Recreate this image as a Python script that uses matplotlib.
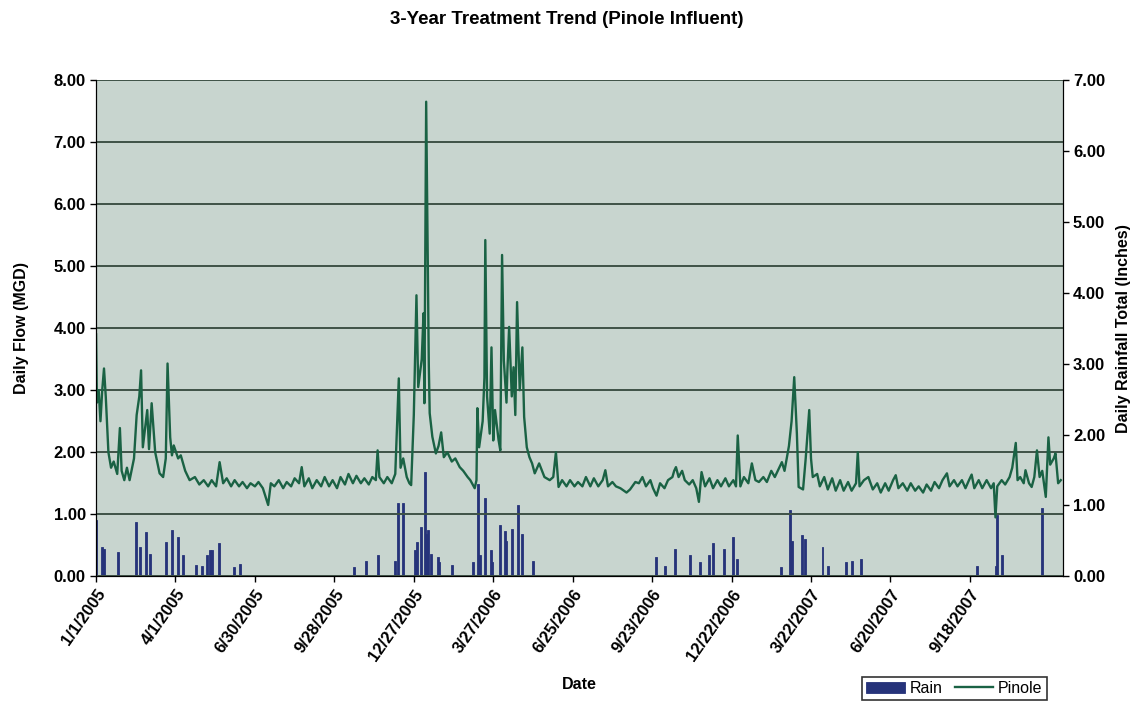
import matplotlib.pyplot as plt
import matplotlib.dates as mdates
import pandas as pd

plt.rcParams['font.family'] = ['Liberation Sans', 'DejaVu Sans']

start = pd.Timestamp("2005-01-01")

# daily flow (MGD); day = days since 1/1/2005
flow_day = [0, 1, 3, 5, 7, 9, 11, 14, 17, 20, 24, 27, 29, 32, 35, 38, 43, 46, 49, 51,
            53, 58, 60, 63, 67, 72, 76, 79, 81, 84, 86, 88, 93, 96, 101, 106, 112, 117, 122, 127,
            131, 136, 140, 144, 148, 153, 157, 162, 166, 171, 175, 180, 184, 189, 195, 198, 202, 207, 212, 216,
            221, 225, 230, 233, 236, 241, 245, 250, 255, 259, 264, 268, 273, 277, 282, 286, 291, 295, 300, 304,
            309, 313, 317, 319, 321, 326, 330, 335, 339, 343, 345, 348, 352, 355, 357, 360, 363, 365, 369, 371,
            372, 374, 377, 378, 381, 385, 388, 391, 394, 398, 403, 407, 412, 416, 421, 424, 429, 431, 432, 434,
            438, 440, 441, 443, 446, 448, 450, 452, 456, 458, 460, 462, 465, 466, 468, 471, 473, 475, 477, 480,
            483, 485, 488, 491, 494, 497, 502, 508, 514, 518, 521, 524, 528, 533, 537, 542, 546, 551, 555, 560,
            564, 569, 574, 577, 580, 585, 589, 594, 601, 605, 611, 615, 619, 623, 628, 631, 635, 639, 644, 648,
            653, 655, 657, 660, 664, 667, 672, 676, 680, 683, 686, 690, 695, 699, 704, 708, 713, 717, 722, 725,
            727, 730, 734, 739, 743, 747, 751, 756, 760, 765, 769, 774, 777, 780, 785, 788, 791, 794, 796, 801,
            804, 808, 810, 812, 817, 820, 825, 829, 834, 838, 843, 847, 852, 856, 861, 863, 865, 870, 875, 880,
            885, 889, 894, 898, 903, 906, 909, 914, 919, 923, 928, 932, 937, 941, 946, 950, 955, 959, 964, 967,
            972, 976, 981, 985, 989, 992, 995, 1000, 1004, 1009, 1014, 1017, 1019, 1021, 1026, 1030, 1035, 1038, 1042, 1044,
            1047, 1051, 1053, 1057, 1060, 1063, 1066, 1069, 1072, 1076, 1079, 1081, 1085, 1087, 1090, 1093]
flow_mgd = [3.9, 2.8, 3.0, 2.5, 3.0, 3.35, 2.9, 2.0, 1.75, 1.85, 1.65, 2.39, 1.7, 1.55, 1.75, 1.55, 1.9, 2.6, 2.9, 3.32,
            2.08, 2.68, 2.05, 2.79, 2.0, 1.66, 1.6, 1.9, 3.43, 2.24, 1.95, 2.11, 1.9, 1.95, 1.7, 1.55, 1.6, 1.48, 1.55, 1.45,
            1.55, 1.45, 1.84, 1.5, 1.58, 1.45, 1.55, 1.45, 1.52, 1.42, 1.5, 1.45, 1.52, 1.42, 1.15, 1.5, 1.45, 1.55, 1.42, 1.52,
            1.45, 1.58, 1.5, 1.76, 1.45, 1.58, 1.42, 1.55, 1.45, 1.6, 1.45, 1.55, 1.42, 1.6, 1.48, 1.65, 1.5, 1.62, 1.5, 1.58,
            1.48, 1.6, 1.55, 2.03, 1.6, 1.5, 1.6, 1.5, 1.65, 3.19, 1.75, 1.9, 1.6, 1.5, 1.47, 2.6, 4.53, 3.05, 3.5, 4.24,
            2.79, 7.65, 3.4, 2.63, 2.25, 1.98, 2.1, 2.32, 1.92, 2.0, 1.85, 1.9, 1.76, 1.7, 1.6, 1.55, 1.42, 1.55, 2.71, 2.08,
            2.5, 3.2, 5.42, 2.9, 2.3, 3.69, 2.19, 2.68, 2.2, 2.03, 5.18, 3.48, 2.8, 3.3, 4.02, 2.9, 3.37, 2.6, 4.42, 3.0,
            3.69, 2.57, 2.08, 1.92, 1.82, 1.66, 1.82, 1.6, 1.55, 1.6, 2.0, 1.44, 1.55, 1.45, 1.55, 1.45, 1.52, 1.45, 1.6, 1.45,
            1.58, 1.45, 1.55, 1.71, 1.45, 1.52, 1.45, 1.42, 1.35, 1.4, 1.52, 1.5, 1.6, 1.45, 1.55, 1.42, 1.3, 1.5, 1.42, 1.55,
            1.6, 1.7, 1.76, 1.6, 1.7, 1.55, 1.48, 1.55, 1.42, 1.2, 1.68, 1.45, 1.58, 1.42, 1.55, 1.45, 1.58, 1.45, 1.55, 1.45,
            2.27, 1.45, 1.6, 1.5, 1.82, 1.55, 1.52, 1.6, 1.52, 1.7, 1.6, 1.75, 1.84, 1.7, 2.1, 2.5, 3.21, 2.3, 1.44, 1.4,
            1.9, 2.68, 1.9, 1.6, 1.65, 1.45, 1.6, 1.4, 1.58, 1.38, 1.55, 1.38, 1.52, 1.38, 1.5, 2.0, 1.45, 1.55, 1.6, 1.4,
            1.5, 1.35, 1.5, 1.38, 1.55, 1.63, 1.42, 1.5, 1.38, 1.5, 1.38, 1.45, 1.35, 1.48, 1.38, 1.52, 1.42, 1.55, 1.66, 1.45,
            1.55, 1.45, 1.55, 1.42, 1.55, 1.64, 1.42, 1.55, 1.42, 1.55, 1.42, 1.5, 0.95, 1.45, 1.55, 1.48, 1.6, 1.75, 2.15, 1.55,
            1.6, 1.5, 1.71, 1.5, 1.44, 1.6, 2.03, 1.6, 1.7, 1.28, 2.24, 1.8, 1.9, 1.98, 1.5, 1.55]

# daily rainfall (inches)
rain_day = [0, 7, 9, 25, 45, 50, 57, 61, 79, 86, 93, 99, 113, 120, 126, 131, 129, 139, 156, 163,
            292, 306, 319, 339, 342, 348, 361, 364, 368, 373, 374, 376, 380, 387, 389, 403, 427, 433, 435, 441,
            447, 449, 458, 463, 465, 471, 478, 483, 495, 634, 645, 656, 673, 684, 694, 699, 711, 722, 726, 776,
            786, 789, 800, 803, 823, 829, 850, 856, 867, 998, 1019, 1021, 1026, 1072]
rain_in = [0.8, 0.41, 0.38, 0.34, 0.76, 0.41, 0.62, 0.31, 0.48, 0.65, 0.55, 0.3, 0.16, 0.14, 0.3, 0.37, 0.37, 0.47, 0.13, 0.18,
           0.13, 0.22, 0.3, 0.22, 1.04, 1.04, 0.37, 0.48, 0.69, 1.47, 0.6, 0.65, 0.32, 0.27, 0.2, 0.16, 0.2, 1.3, 0.3, 1.1,
           0.37, 0.2, 0.72, 0.64, 0.5, 0.67, 1.0, 0.6, 0.22, 0.27, 0.14, 0.39, 0.3, 0.2, 0.3, 0.47, 0.39, 0.55, 0.25, 0.13,
           0.93, 0.5, 0.58, 0.52, 0.41, 0.14, 0.2, 0.22, 0.25, 0.14, 0.14, 0.86, 0.3, 0.97]

tick_days = [0, 90, 180, 270, 360, 450, 540, 630, 720, 810, 900, 990]

flow_dates = start + pd.to_timedelta(flow_day, unit="D")
rain_dates = start + pd.to_timedelta(rain_day, unit="D")
tick_dates = start + pd.to_timedelta(tick_days, unit="D")

fig = plt.figure(figsize=(11.34, 7.08), dpi=100)
ax = fig.add_axes([0.0847, 0.186, 0.8523, 0.701])
ax2 = ax.twinx()

# rain axis sits underneath so the flow line draws on top
ax2.patch.set_visible(True)
ax2.set_facecolor('#c8d5cf')
ax.set_zorder(ax2.get_zorder() + 1)
ax.patch.set_visible(False)

ax2.bar(rain_dates, rain_in, width=2.2, color='#26337a', edgecolor='#26337a', lw=0.6, label='Rain')
ax.plot(flow_dates, flow_mgd, color='#1a6244', lw=1.7, label='Pinole')

ax.set_xlim(start, start + pd.Timedelta(days=1095))
ax.set_ylim(0, 8)
ax2.set_ylim(0, 7)
ax.set_yticks(range(0, 9))
ax2.set_yticks(range(0, 8))
ax.yaxis.set_major_formatter(plt.FormatStrFormatter('%.2f'))
ax2.yaxis.set_major_formatter(plt.FormatStrFormatter('%.2f'))
ax.grid(axis='y', color='#3f5247', lw=1.4)
ax.set_axisbelow(True)

ax.set_xticks(tick_dates)
ax.set_xticklabels([f"{d.month}/{d.day}/{d.year}" for d in tick_dates],
                   rotation=55, ha='right', rotation_mode='anchor')
for a in (ax, ax2):
    a.tick_params(labelsize=12, length=4, width=1)
    for lab in a.get_xticklabels() + a.get_yticklabels():
        lab.set_fontweight('bold')
    a.spines['top'].set_visible(False)

ax.set_ylabel("Daily Flow (MGD)", fontsize=11.5, fontweight='bold', labelpad=18)
ax2.set_ylabel("Daily Rainfall Total (Inches)", fontsize=11.5, fontweight='bold', labelpad=8)
ax.set_xlabel("Date", fontsize=11.5, fontweight='bold', labelpad=10)
fig.suptitle("3-Year Treatment Trend (Pinole Influent)", fontsize=13.5, fontweight='bold', y=0.985)

h1, l1 = ax2.get_legend_handles_labels()
h2, l2 = ax.get_legend_handles_labels()
leg = fig.legend(h1 + h2, l1 + l2, ncol=2, loc='lower right', bbox_to_anchor=(0.93, 0.0),
                 fontsize=11.5, frameon=True, fancybox=False, edgecolor='black',
                 handlelength=2.4, columnspacing=0.8, borderpad=0.25, handletextpad=0.3)
leg.get_frame().set_linewidth(1.2)

fig.savefig("out.png", dpi=100)
